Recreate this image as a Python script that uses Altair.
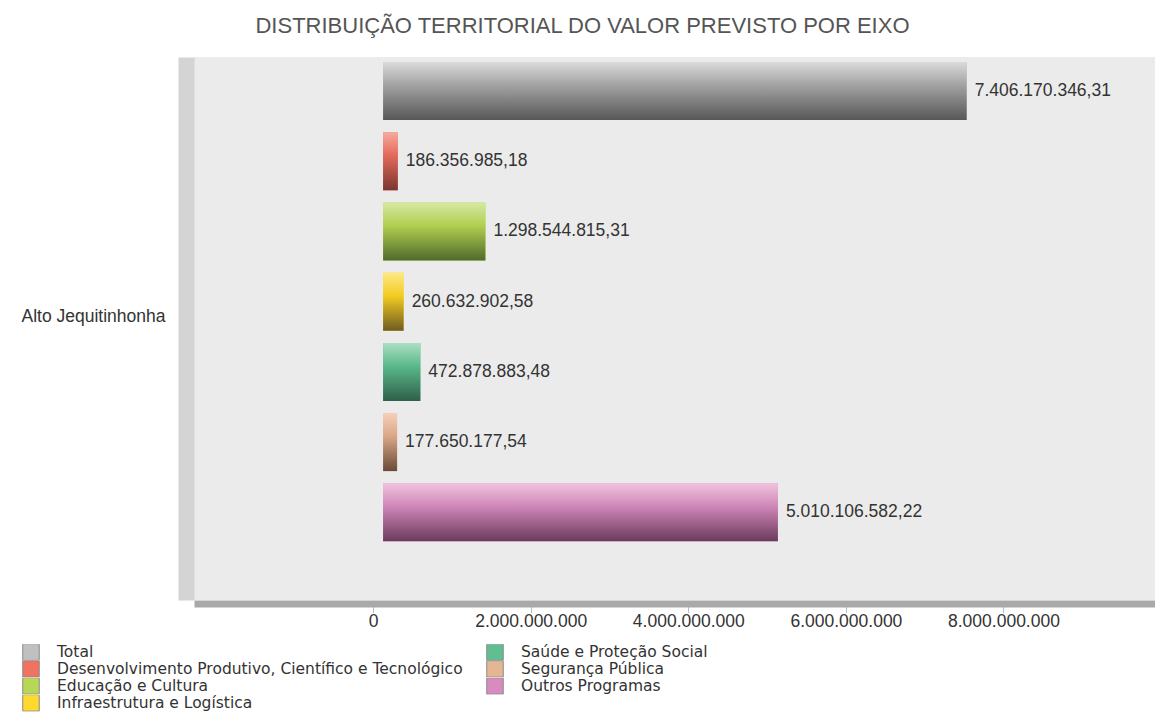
import altair as alt
import pandas as pd

# ---- data ----
regiao = "Alto Jequitinhonha"
series = [
    "Total",
    "Desenvolvimento Produtivo, Científico e Tecnológico",
    "Educação e Cultura",
    "Infraestrutura e Logística",
    "Saúde e Proteção Social",
    "Segurança Pública",
    "Outros Programas",
]
valores = [
    7406170346.31,
    186356985.18,
    1298544815.31,
    260632902.58,
    472878883.48,
    177650177.54,
    5010106582.22,
]
cores = ["#c0c0c0", "#f07261", "#b9d757", "#ffd930", "#60bf91", "#e4b694", "#d78bbf"]
grad_top = ["#dadada", "#f6aa9f", "#d6e8a4", "#ffe886", "#acdec4", "#f6d0ba", "#f1c4de"]
grad_mid = ["#a2a2a2", "#e26a5a", "#b1cf50", "#f2cc22", "#5ab98a", "#d9a786", "#cf86b9"]
grad_bot = ["#575757", "#7a3630", "#4f6a2b", "#6f5b21", "#2f5f48", "#694a38", "#6a3a5b"]
tick_values = [0, 2000000000, 4000000000, 6000000000, 8000000000]
titulo = "DISTRIBUIÇÃO TERRITORIAL DO VALOR PREVISTO POR EIXO"

df = pd.DataFrame({"regiao": [regiao] * len(series), "serie": series, "valor": valores})

FONT = "Liberation Sans"
LEG_FONT = "DejaVu Sans"
FS = 17.5
W, H = 961, 543

x_enc = alt.X(
    "valor:Q",
    scale=alt.Scale(domain=[-2.273e9, 9.923e9], nice=False, zero=False),
    axis=alt.Axis(
        values=tick_values, format=",d", title=None, offset=3.5,
        domainWidth=7, domainColor="#a9a9a9", tickSize=9, tickColor="#bdbdbd",
        labelFontSize=FS, labelColor="#333333", labelPadding=0, grid=False,
        labelFont=FONT,
    ),
)
y_enc = alt.Y(
    "regiao:N",
    scale=alt.Scale(paddingInner=0, paddingOuter=0),
    axis=alt.Axis(
        title=None, ticks=False, offset=8, domainWidth=16, domainColor="#d4d4d4",
        labelFontSize=FS, labelColor="#333333", labelPadding=21, labelOffset=-12,
        labelFont=FONT,
    ),
)
yoff_enc = alt.YOffset(
    "serie:N",
    scale=alt.Scale(domain=series, paddingInner=0.174, paddingOuter=0.4545, align=0.08),
)

base = alt.Chart(df).mark_bar(xOffset=10).encode(
    x=x_enc,
    y=y_enc,
    yOffset=yoff_enc,
    color=alt.Color(
        "serie:N",
        scale=alt.Scale(domain=series, range=cores),
        legend=alt.Legend(
            orient="none", legendX=-172, legendY=587, columns=2, columnPadding=23,
            rowPadding=0, symbolType="square", symbolSize=272, clipHeight=15.8,
            symbolStrokeColor="#8a8a8a", symbolStrokeWidth=1, symbolOpacity=1,
            labelFontSize=15.5, labelColor="#333333", labelFont=LEG_FONT, labelLimit=700,
            title=None, padding=0, labelOffset=17,
        ),
    ),
)

layers = [base]
for i, s in enumerate(series):
    grad = alt.Gradient(
        gradient="linear",
        stops=[
            alt.GradientStop(color=grad_top[i], offset=0),
            alt.GradientStop(color=grad_mid[i], offset=0.4),
            alt.GradientStop(color=grad_bot[i], offset=1),
        ],
        x1=0, x2=0, y1=0, y2=1,
    )
    layers.append(
        alt.Chart(df)
        .transform_filter(alt.datum.serie == s)
        .mark_bar(xOffset=10, color=grad)
        .encode(x=x_enc, y=y_enc, yOffset=yoff_enc)
    )

labels = alt.Chart(df).mark_text(
    align="left", baseline="middle", dx=18, fontSize=FS, color="#333333", font=FONT
).encode(
    x=x_enc, y=y_enc, yOffset=yoff_enc,
    text=alt.Text("valor:Q", format=",.2f"),
)
layers.append(labels)

chart = (
    alt.layer(*layers)
    .properties(
        width=W,
        height=H,
        title=alt.TitleParams(
            text=titulo, anchor="middle", dx=-92, fontSize=22, font=FONT,
            color="#555555", fontWeight="normal", offset=19,
        ),
        autosize=alt.AutoSizeParams(type="none"),
        padding={"left": 186, "top": 49, "right": 0, "bottom": 120},
        background="white",
    )
    .configure(
        locale={
            "number": {
                "decimal": ",",
                "thousands": ".",
                "grouping": [3],
                "currency": ["R$", ""],
            }
        },
        view=alt.ViewConfig(fill="#ebebeb", strokeWidth=0),
    )
)

chart.save("out.html", embed_options={"renderer": "svg", "actions": False})
